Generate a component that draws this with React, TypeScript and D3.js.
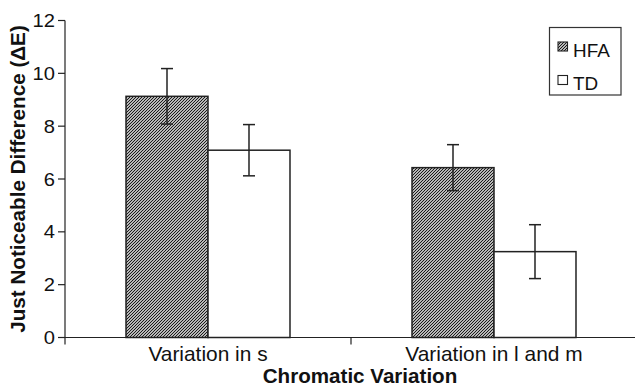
import React from "react";
import * as d3 from "d3";

const categories = ["Variation in s", "Variation in l and m"];
const seriesNames = ["HFA", "TD"];
const hfaValues = [9.13, 6.43];
const hfaErrors = [1.05, 0.87];
const tdValues = [7.09, 3.25];
const tdErrors = [0.97, 1.02];
const yTicks = [0, 2, 4, 6, 8, 10, 12];

const W = 635;
const H = 388;
const FONT = "'Liberation Sans', Arial, Helvetica, sans-serif";
const INK = "#222";

export default function App() {
  const y = d3.scaleLinear().domain([0, 12]).range([337.5, 20.5]);
  const x0 = d3.scaleBand<string>().domain(categories).range([65, 637]).paddingInner(0).paddingOuter(0);
  const x1 = d3
    .scaleBand<string>()
    .domain(seriesNames)
    .range([0, x0.bandwidth()])
    .paddingInner(0)
    .paddingOuter(0.744);

  const rows = categories.map((c, i) => ({
    cat: c,
    items: [
      { s: "HFA", v: hfaValues[i], e: hfaErrors[i] },
      { s: "TD", v: tdValues[i], e: tdErrors[i] },
    ],
  }));

  const y0 = y(0);
  const capW = 12;

  return (
    <svg
      width={W}
      height={H}
      viewBox={`0 0 ${W} ${H}`}
      style={{ position: "absolute", left: 0, top: 0, background: "#fff" }}
      fontFamily={FONT}
    >
      <defs>
        <pattern id="hatch" patternUnits="userSpaceOnUse" width={3} height={3}>
          <rect width={3} height={3} fill="#fff" />
          <path d="M-1,1 L1,-1 M0,3 L3,0 M2,4 L4,2" stroke="#111" strokeWidth={1.15} />
        </pattern>
      </defs>

      {/* bars */}
      {rows.map((r) => (
        <g key={r.cat} transform={`translate(${x0(r.cat)},0)`}>
          {r.items.map((d) => {
            const bx = x1(d.s)!;
            const bw = x1.bandwidth();
            return (
              <rect
                key={d.s}
                x={bx}
                y={y(d.v)}
                width={bw}
                height={y0 - y(d.v)}
                fill={d.s === "HFA" ? "url(#hatch)" : "#fff"}
                stroke={INK}
                strokeWidth={1.5}
              />
            );
          })}
          {r.items.map((d) => {
            const cx = x1(d.s)! + x1.bandwidth() / 2;
            const yt = y(d.v + d.e);
            const yb = y(d.v - d.e);
            return (
              <g key={d.s + "e"} stroke={INK} strokeWidth={1.5}>
                <line x1={cx} x2={cx} y1={yt} y2={yb} />
                <line x1={cx - capW / 2} x2={cx + capW / 2} y1={yt} y2={yt} />
                <line x1={cx - capW / 2} x2={cx + capW / 2} y1={yb} y2={yb} />
              </g>
            );
          })}
        </g>
      ))}

      {/* y axis */}
      <g stroke={INK} strokeWidth={1.2}>
        <line x1={65} x2={65} y1={y(12)} y2={y0 + 7} />
        {yTicks.map((t) => (
          <line key={t} x1={58} x2={65} y1={y(t)} y2={y(t)} />
        ))}
      </g>
      {yTicks.map((t) => (
        <text
          key={"l" + t}
          transform={`translate(55,${y(t) + 6.5}) scale(1.12,1)`}
          textAnchor="end"
          fontSize={18}
          fill="#111"
        >
          {t}
        </text>
      ))}

      {/* x axis */}
      <g stroke={INK} strokeWidth={1.2}>
        <line x1={65} x2={637} y1={y0} y2={y0} />
        {categories.slice(1).map((c) => (
          <line key={c} x1={x0(c)} x2={x0(c)} y1={y0} y2={y0 + 7} />
        ))}
      </g>
      {categories.map((c) => (
        <text
          key={"c" + c}
          transform={`translate(${x0(c)! + x0.bandwidth() / 2},361) scale(1.02,1)`}
          textAnchor="middle"
          fontSize={20.5}
          fill="#111"
        >
          {c}
        </text>
      ))}
      <text
        transform={`translate(360,383) scale(1.03,1)`}
        textAnchor="middle"
        fontSize={20}
        fontWeight="bold"
        fill="#111"
      >
        Chromatic Variation
      </text>
      <text
        transform={`translate(25,${(y(0) + y(12)) / 2}) rotate(-90) scale(1.06,1)`}
        textAnchor="middle"
        fontSize={19.5}
        fontWeight="bold"
        fill="#111"
      >
        Just Noticeable Difference (ΔE)
      </text>

      {/* legend */}
      <rect x={549.5} y={27.5} width={71.5} height={67.5} fill="#fff" stroke="#333" strokeWidth={1.2} />
      {seriesNames.map((s, i) => (
        <g key={"lg" + s} transform={`translate(0,${i * 33.5})`}>
          <rect
            x={558}
            y={42}
            width={9.5}
            height={9}
            fill={s === "HFA" ? "url(#hatch)" : "#fff"}
            stroke={INK}
            strokeWidth={1.1}
          />
          <text transform={`translate(573,56.5) scale(1.08,1)`} fontSize={17.5} fill="#111">
            {s}
          </text>
        </g>
      ))}
    </svg>
  );
}
